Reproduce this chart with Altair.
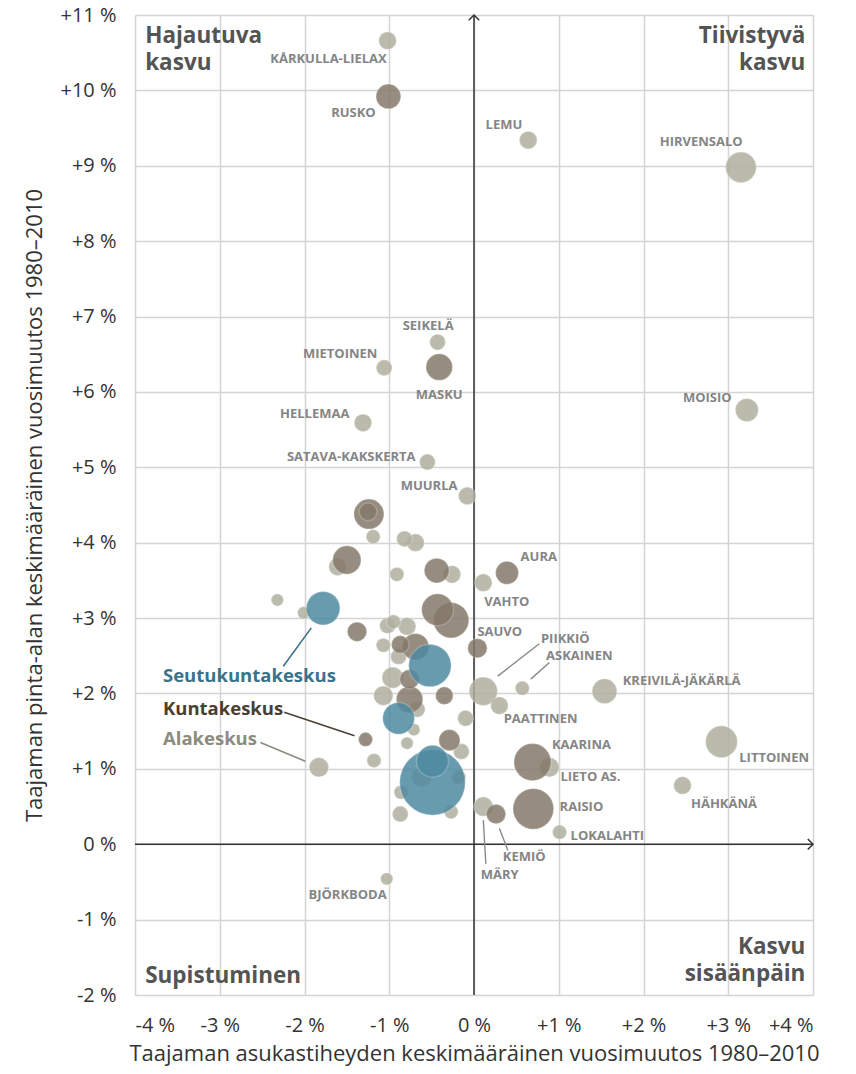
import math
import altair as alt
import pandas as pd

# ---------------- data ----------------
# Alakeskus (light grey bubbles)
ala_x = [-1.02, 0.64, 3.15, -0.43, -1.06, -1.31, -0.55, -0.08, 3.22, 0.11,
         0.11, 0.57, 0.30, 1.54, 0.89, 1.01, 2.92, 2.46, 0.11, -1.03,
         -1.83, -2.01, -2.32, -1.19, -0.82, -0.69, -1.61, -0.91, -0.26, -1.02,
         -0.95, -0.79, -1.07, -0.89, -0.96, -1.07, -0.67, -0.10, -0.71, -0.79,
         -0.15, -1.18, -0.62, -0.18, -0.86, -0.87, -0.27]
ala_y = [10.66, 9.34, 8.98, 6.66, 6.32, 5.59, 5.07, 4.62, 5.76, 3.47,
         2.03, 2.07, 1.84, 2.03, 1.02, 0.16, 1.36, 0.78, 0.50, -0.46,
         1.02, 3.07, 3.24, 4.08, 4.05, 4.00, 3.68, 3.58, 3.58, 2.90,
         2.95, 2.89, 2.64, 2.49, 2.21, 1.97, 1.79, 1.67, 1.52, 1.34,
         1.23, 1.11, 0.89, 0.89, 0.69, 0.40, 0.43]
ala_koko = [100, 100, 300, 81, 81, 100, 81, 100, 169, 100,
            256, 64, 100, 196, 121, 64, 324, 100, 121, 49,
            121, 49, 49, 64, 81, 100, 100, 64, 100, 81,
            64, 100, 64, 81, 144, 121, 81, 81, 49, 49,
            81, 64, 121, 64, 64, 81, 64]

# Kuntakeskus (dark brown bubbles)
kunta_x = [-1.01, -0.41, 0.39, 0.04, 0.69, 0.70, 0.26, -1.28, -1.24, -1.25,
           -1.50, -0.44, -0.43, -0.27, -1.38, -0.87, -0.69, -0.76, -0.76, -0.35, -0.29]
kunta_y = [9.92, 6.33, 3.60, 2.60, 1.09, 0.47, 0.40, 1.39, 4.38, 4.41,
           3.77, 3.63, 3.11, 2.97, 2.82, 2.65, 2.62, 2.19, 1.92, 1.97, 1.38]
kunta_koko = [196, 225, 169, 121, 441, 529, 121, 64, 289, 100,
              256, 196, 324, 400, 121, 100, 225, 121, 225, 100, 144]

# Seutukuntakeskus (blue bubbles)
seutu_x = [-1.78, -0.52, -0.89, -0.49, -0.49]
seutu_y = [3.13, 2.37, 1.67, 1.10, 0.82]
seutu_koko = [361, 576, 324, 324, 1369]

luokat = ["Alakeskus", "Kuntakeskus", "Seutukuntakeskus"]

# place-name labels (anchor in data units)
nimi_oik = ["KÅRKULLA-LIELAX", "RUSKO", "LEMU", "HIRVENSALO", "SEIKELÄ", "MIETOINEN",
            "HELLEMAA", "SATAVA-KAKSKERTA", "MUURLA", "MOISIO", "BJÖRKBODA"]
nimi_oik_x = [-1.03, -1.16, 0.57, 3.17, -0.24, -1.14, -1.47, -0.69, -0.195, 3.04, -1.03]
nimi_oik_y = [10.42, 9.70, 9.54, 9.32, 6.87, 6.50, 5.71, 5.14, 4.75, 5.92, -0.68]

nimi_kesk = ["MASKU"]
nimi_kesk_x = [-0.41]
nimi_kesk_y = [5.96]

nimi_vas = ["AURA", "VAHTO", "SAUVO", "PIIKKIÖ", "ASKAINEN", "KREIVILÄ-JÄKÄRLÄ", "PAATTINEN",
            "KAARINA", "LIETO AS.", "RAISIO", "LOKALAHTI", "LITTOINEN", "HÄHKÄNÄ", "KEMIÖ", "MÄRY"]
nimi_vas_x = [0.55, 0.12, 0.04, 0.79, 0.85, 1.755, 0.35, 0.92, 1.02, 1.01, 1.14, 3.13, 2.56, 0.34, 0.08]
nimi_vas_y = [3.81, 3.21, 2.81, 2.72, 2.50, 2.17, 1.66, 1.32, 0.89, 0.49, 0.11, 1.15, 0.54, -0.17, -0.41]

# leader lines for place names
viiva_x1 = [0.28, 0.67, 0.11, 0.30]
viiva_y1 = [2.23, 2.19, 0.32, 0.21]
viiva_x2 = [0.77, 0.89, 0.14, 0.40]
viiva_y2 = [2.66, 2.41, -0.26, -0.08]

# legend (category names with pointer lines)
selite_x = -3.67
selite_y = [2.23, 1.80, 1.39]
selite_v_x1 = [-1.92, -1.41, -1.99]
selite_v_y1 = [2.87, 1.44, 1.10]
selite_v_x2 = [-2.25, -2.24, -2.52]
selite_v_y2 = [2.36, 1.75, 1.35]

# quadrant titles (two-line texts are split at "|"; y = first line)
kulma_vas = ["Hajautuva|kasvu", "Supistuminen"]
kulma_vas_y = [10.72, -1.75]
kulma_oik = ["Tiivistyvä|kasvu", "Kasvu|sisäänpäin"]
kulma_oik_y = [10.72, -1.36]

x_ticks = [-4, -3, -2, -1, 0, 1, 2, 3, 4]
y_ticks = [-2, -1, 0, 1, 2, 3, 4, 5, 6, 7, 8, 9, 10, 11]

# ---------------- tables ----------------
rows = []
for xs_, ys_, ks, c in [(ala_x, ala_y, ala_koko, 0), (kunta_x, kunta_y, kunta_koko, 1),
                        (seutu_x, seutu_y, seutu_koko, 2)]:
    for a, b, k in zip(xs_, ys_, ks):
        rows.append({"x": a, "y": b, "koko": k, "luokka": luokat[c], "c": c})
kuplat = pd.DataFrame(rows).sort_values(["c", "koko"], ascending=[True, False]).reset_index(drop=True)
kuplat["jarj"] = range(len(kuplat))

XT = "Taajaman asukastiheyden keskimääräinen vuosimuutos 1980–2010"
YT = "Taajaman pinta-alan keskimääräinen vuosimuutos 1980–2010"
LBL = "(datum.value > 0 ? '+' : '') + datum.value + ' %'"

xs = alt.Scale(domain=[-4, 4], nice=False, zero=False)
ys = alt.Scale(domain=[-2, 11], nice=False, zero=False)
x_axis = alt.Axis(values=x_ticks, labelExpr=LBL, title=XT, labelPadding=20, titlePadding=8)
y_axis = alt.Axis(values=y_ticks, labelExpr=LBL, title=YT, labelPadding=19, titlePadding=13)


def X(f="x"):
    return alt.X(f"{f}:Q", scale=xs, axis=x_axis, title=XT)


def Y(f="y"):
    return alt.Y(f"{f}:Q", scale=ys, axis=y_axis, title=YT)


# zero axes
zero_h = alt.Chart(pd.DataFrame({"x": [-4], "x2": [4], "y": [0]})).mark_rule(
    color="#333333", strokeWidth=1.5).encode(x=X(), x2="x2:Q", y=Y())
zero_v = alt.Chart(pd.DataFrame({"x": [0], "y": [-2], "y2": [11]})).mark_rule(
    color="#333333", strokeWidth=1.5).encode(x=X(), y=Y(), y2="y2:Q")
arrow_r = alt.Chart(pd.DataFrame({"x": [4], "y": [0]})).mark_point(
    shape="M -1 -1 L 0 0 L -1 1", filled=False, stroke="#333333", strokeWidth=1.5,
    size=110, opacity=1).encode(x=X(), y=Y())
arrow_u = alt.Chart(pd.DataFrame({"x": [0], "y": [11]})).mark_point(
    shape="M -1 1 L 0 0 L 1 1", filled=False, stroke="#333333", strokeWidth=1.5,
    size=110, opacity=1).encode(x=X(), y=Y())

# leader lines
viivat = alt.Chart(pd.DataFrame({"x": viiva_x1, "y": viiva_y1, "x2": viiva_x2, "y2": viiva_y2})).mark_rule(
    color="#8a8a8a", strokeWidth=1.4).encode(x=X(), y=Y(), x2="x2:Q", y2="y2:Q")

sel_cols = ["#3b7389", "#4a4030", "#8c8c7c"]
sel_layers = []
for i in range(3):
    d = pd.DataFrame({"x": [selite_v_x1[i]], "y": [selite_v_y1[i]],
                      "x2": [selite_v_x2[i]], "y2": [selite_v_y2[i]]})
    sel_layers.append(alt.Chart(d).mark_rule(color=sel_cols[i], strokeWidth=1.6).encode(
        x=X(), y=Y(), x2="x2:Q", y2="y2:Q"))

# bubbles
bub = alt.Chart(kuplat).mark_circle(opacity=0.85, stroke="white", strokeOpacity=0.25,
                                    strokeWidth=1.5).encode(
    x=X(), y=Y(),
    size=alt.Size("koko:Q", scale=alt.Scale(domain=[0, 1400], range=[0, 1400 * math.pi]), legend=None),
    color=alt.Color("luokka:N", scale=alt.Scale(domain=luokat, range=["#b0b09f", "#85796a", "#4f8aa2"]),
                    legend=None),
    order=alt.Order("jarj:Q"),
)

FONT = "Open Sans"
lab_kw = dict(font=FONT, fontSize=13, fontWeight="bold", color="#858585", baseline="middle")
lab_r = alt.Chart(pd.DataFrame({"x": nimi_oik_x, "y": nimi_oik_y, "t": nimi_oik})).mark_text(
    align="right", **lab_kw).encode(x=X(), y=Y(), text="t:N")
lab_c = alt.Chart(pd.DataFrame({"x": nimi_kesk_x, "y": nimi_kesk_y, "t": nimi_kesk})).mark_text(
    align="center", **lab_kw).encode(x=X(), y=Y(), text="t:N")
lab_l = alt.Chart(pd.DataFrame({"x": nimi_vas_x, "y": nimi_vas_y, "t": nimi_vas})).mark_text(
    align="left", **lab_kw).encode(x=X(), y=Y(), text="t:N")

sel_text = []
for i in range(3):
    d = pd.DataFrame({"x": [selite_x], "y": [selite_y[i]], "t": [luokat[2 - i]]})
    sel_text.append(alt.Chart(d).mark_text(align="left", baseline="middle", font=FONT, fontSize=18.5,
                                           fontWeight="bold", color=sel_cols[i]).encode(
        x=X(), y=Y(), text="t:N"))

q_kw = dict(font=FONT, fontSize=22.5, fontWeight="bold", color="#545454", baseline="middle",
            lineBreak="|", lineHeight=27)
q_l = alt.Chart(pd.DataFrame({"x": [-3.88] * 2, "y": kulma_vas_y, "t": kulma_vas})).mark_text(
    align="left", **q_kw).encode(x=X(), y=Y(), text="t:N")
q_r = alt.Chart(pd.DataFrame({"x": [3.91] * 2, "y": kulma_oik_y, "t": kulma_oik})).mark_text(
    align="right", **q_kw).encode(x=X(), y=Y(), text="t:N")

chart = alt.layer(
    zero_h, zero_v, arrow_r, arrow_u, viivat, *sel_layers, bub, lab_r, lab_c, lab_l, *sel_text, q_l, q_r
).properties(
    width=678, height=980,
    autosize=alt.AutoSizeParams(type="none"),
    padding={"left": 127, "top": 7, "right": 35, "bottom": 77},
    background="white",
).configure_view(stroke=None).configure_axis(
    grid=True, gridColor="#d4d4d4", gridWidth=1.5, domain=False, ticks=False,
    labelFont=FONT, labelFontSize=20, labelColor="#333333",
    titleFont=FONT, titleFontSize=22, titleFontWeight="normal", titleColor="#333333",
)

chart.save("out.html", embed_options={"renderer": "svg", "actions": False})
